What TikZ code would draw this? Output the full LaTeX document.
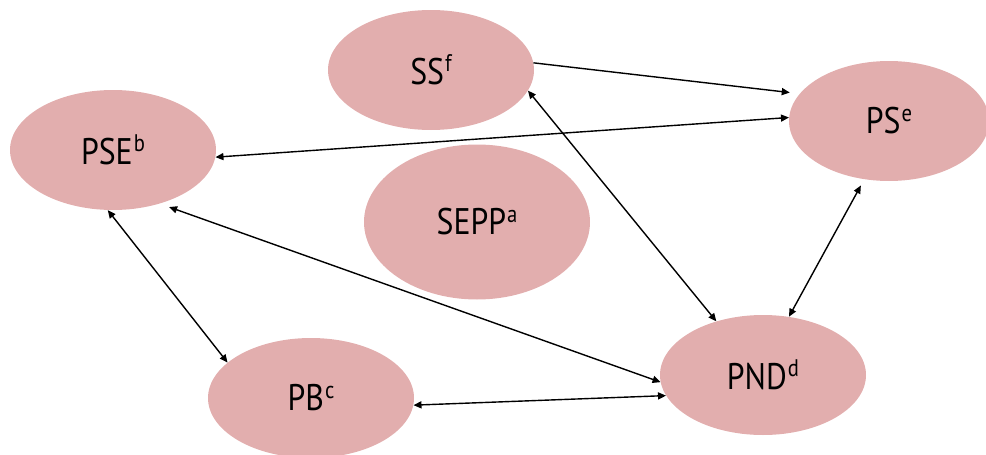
\documentclass[tikz,border=0pt]{standalone}
\usepackage{fontspec}
\setmainfont[FakeStretch=0.86]{PT Sans}
\usetikzlibrary{arrows.meta,shapes.geometric}
\definecolor{ovalpink}{RGB}{226,174,174}
\newcommand{\sups}[1]{\kern1pt\raisebox{0.34em}{\fontsize{24}{24}\selectfont #1}}

\begin{document}
\begin{tikzpicture}[x=1pt,y=-1pt,
		oval/.style={ellipse,fill=ovalpink,inner sep=0pt,minimum width=206pt,minimum height=120pt,font=\fontsize{37}{40}\selectfont},
		link/.style={line width=1.4pt,{Triangle[length=8pt,width=7pt]}-{Triangle[length=8pt,width=7pt]}},
		oneway/.style={line width=1.4pt,-{Triangle[length=8pt,width=7pt]}}]
		\useasboundingbox (0,0) rectangle (986,455);
		
		% Ovals
		\node[oval] (ss) at (431,70) {SS\sups{f}};
		\node[oval] (pse) at (113,150) {PSE\sups{b}};
		\node[oval,minimum width=226pt,minimum height=155pt] (sepp) at (477,222) {SEPP\sups{a}};
		\node[oval,minimum width=200pt] (ps) at (889,121) {PS\sups{e}};
		\node[oval] (pb) at (311,398) {PB\sups{c}};
		\node[oval] (pnd) at (763,375) {PND\sups{d}};
		
		% Arrows
		\draw[oneway,shorten >=10pt] (ss.4) -- (ps.163);
		\draw[link] (pse.-4) -- (ps.178);
		\draw[link] (ss.-12) -- (pnd.131);
		\draw[link,shorten >=7pt] (pnd.66) -- (ps.247);
		\draw[link] (pse.265) -- (pb.157);
		\draw[link,shorten <=10pt] (pse.-49) -- (pnd.184);
		\draw[link] (pb.-4) -- (pnd.192);
		
\end{tikzpicture}
\end{document}
